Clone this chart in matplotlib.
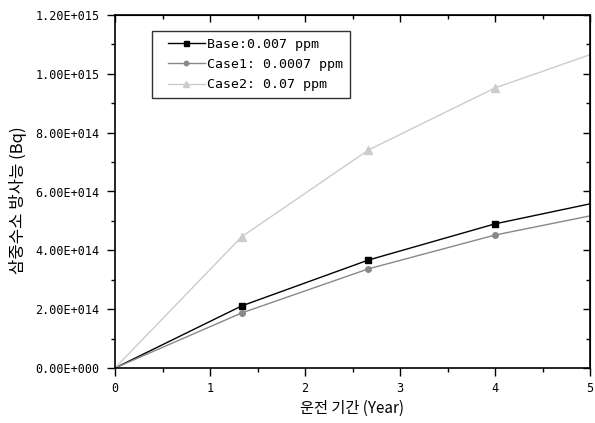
import matplotlib
matplotlib.use("Agg")
import matplotlib.pyplot as plt
from matplotlib.ticker import MultipleLocator, FuncFormatter
from matplotlib.legend_handler import HandlerLine2D
import numpy as np

plt.rcParams['font.family'] = ['Noto Sans CJK KR', 'DejaVu Sans']

years = [0, 1.333, 2.667, 4.0, 5.0]
base = [0, 0.211e15, 0.367e15, 0.490e15, 0.558e15]
case1 = [0, 0.187e15, 0.337e15, 0.452e15, 0.517e15]
case2 = [0, 0.446e15, 0.741e15, 0.952e15, 1.065e15]
labels = ['Base:0.007 ppm', 'Case1: 0.0007 ppm', 'Case2: 0.07 ppm']
xlabel = '운전 기간 (Year)'
ylabel = '삼중수소 방사능 (Bq)'

mono = ['DejaVu Sans Mono']

fig = plt.figure(figsize=(5.95, 4.23), dpi=100)
ax = fig.add_axes([115/595, 1-368/423, 475/595, 353/423])

mk = [1, 2, 3]
l1, = ax.plot(years, base, color='black', lw=1.0, marker='s', ms=4.5, markevery=mk, label=labels[0])
l2, = ax.plot(years, case1, color='#888888', lw=1.0, marker='o', ms=4, markevery=mk, label=labels[1])
l3, = ax.plot(years, case2, color='#cccccc', lw=1.0, marker='^', ms=6, markevery=mk, label=labels[2])

ax.set_xlim(0, 5)
ax.set_ylim(0, 1.2e15)
ax.xaxis.set_major_locator(MultipleLocator(1))
ax.xaxis.set_minor_locator(MultipleLocator(0.5))
ax.yaxis.set_major_locator(MultipleLocator(2e14))
ax.yaxis.set_minor_locator(MultipleLocator(1e14))

def yfmt(v, pos):
    if v == 0:
        return '0.00E+000'
    e = int(np.floor(np.log10(abs(v)) + 1e-9))
    m = v / 10**e
    return f'{m:.2f}E+{e:03d}'

ax.yaxis.set_major_formatter(FuncFormatter(yfmt))
ax.xaxis.set_major_formatter(FuncFormatter(lambda v, p: f'{int(round(v))}'))

for s in ax.spines.values():
    s.set_linewidth(1.2)

ax.tick_params(which='both', direction='out', width=1.0)
ax.tick_params(which='major', length=6)
ax.tick_params(which='minor', length=3)
for lab in ax.get_xticklabels() + ax.get_yticklabels():
    lab.set_fontfamily(mono)
    lab.set_fontsize(8.5)
ax.tick_params(axis='x', pad=4)
ax.tick_params(axis='y', pad=5)

# top/right inward ticks
axt = ax.secondary_xaxis('top')
axt.xaxis.set_major_locator(MultipleLocator(1))
axt.xaxis.set_minor_locator(MultipleLocator(0.5))
axt.tick_params(which='both', direction='in', labeltop=False, width=1.0)
axt.tick_params(which='major', length=5)
axt.tick_params(which='minor', length=3)
axr = ax.secondary_yaxis('right')
axr.yaxis.set_major_locator(MultipleLocator(2e14))
axr.yaxis.set_minor_locator(MultipleLocator(1e14))
axr.tick_params(which='both', direction='in', labelright=False, width=1.0)
axr.tick_params(which='major', length=5)
axr.tick_params(which='minor', length=3)

ax.set_xlabel(xlabel, fontsize=11)
ax.xaxis.set_label_coords(0.5, -(408 - 368) / 353)
ax.xaxis.label.set_va('center')
ax.set_ylabel(ylabel, fontsize=12)
ax.yaxis.set_label_coords(-(115 - 18) / 475, 1 - (200 - 15) / 353)
ax.yaxis.label.set_va('center')

hm = {h: HandlerLine2D(xpad=0.7) for h in (l1, l2, l3)}
leg = ax.legend(loc='upper left', bbox_to_anchor=(37/475, 1-16/353),
                prop={'family': mono, 'size': 9.5}, handler_map=hm,
                frameon=True, fancybox=False, edgecolor='black', handlelength=3.5,
                borderpad=0.5, labelspacing=0.56, handletextpad=0.2, borderaxespad=0,
                markerscale=0.8)
leg.get_frame().set_linewidth(1.0)

fig.savefig('out.png', dpi=100)
